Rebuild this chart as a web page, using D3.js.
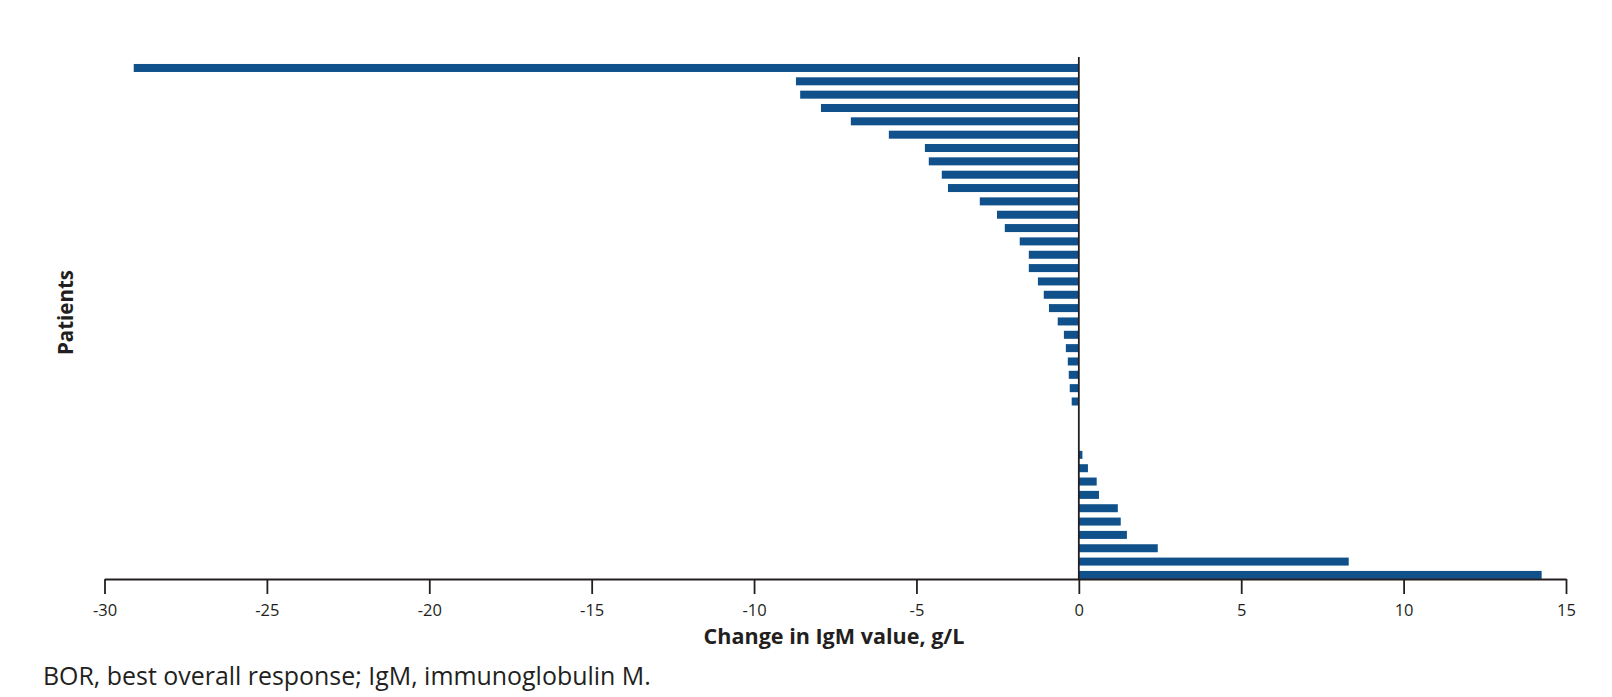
<!DOCTYPE html>
<html>
<head>
<meta charset="utf-8">
<script src="https://cdn.jsdelivr.net/npm/d3@7"></script>
<style>
  html, body { margin: 0; padding: 0; background: #fff; }
  svg { display: block; }
  text { font-family: "Open Sans", "Liberation Sans", Arial, sans-serif; fill: #231f20; }
</style>
</head>
<body>
<svg id="chart" width="1612" height="697"></svg>
<script>
// Veränderung des IgM-Werts je Patient (g/L), sortiert wie im Original
const changeIgM = [
  -29.1, -8.71, -8.58, -7.94, -7.02, -5.85, -4.74, -4.62, -4.22, -4.03,
  -3.05, -2.52, -2.28, -1.82, -1.54, -1.54, -1.26, -1.08, -0.92, -0.65,
  -0.46, -0.40, -0.34, -0.31, -0.28, -0.22, 0, 0, 0,
  0.11, 0.28, 0.55, 0.62, 1.20, 1.29, 1.48, 2.43, 8.31, 14.25
];
// Patienten-IDs (eine Zeile pro Patient)
const patients = changeIgM.map((_, i) => `P${i + 1}`);
// Tick-Werte der x-Achse
const xTicks = [-30, -25, -20, -15, -10, -5, 0, 5, 10, 15];

const xLabel = 'Change in IgM value, g/L';
const yLabel = 'Patients';
const footnote = 'BOR, best overall response; IgM, immunoglobulin M.';

const svg = d3.select('#chart');
const barColor = '#10508b';
const axisColor = '#231f20';

// Skalen
const x = d3.scaleLinear().domain([-30, 15]).range([104.5, 1566]);
const y = d3.scaleBand()
  .domain(patients)
  .range([61.3, 581.6])
  .paddingInner(0.4)
  .paddingOuter(0.2);

const axisY = 579;

// Schriftgröße so anpassen, dass der Text die gewünschte Breite hat
function fitText(sel, targetWidth) {
  const w = sel.node().getComputedTextLength();
  const size = parseFloat(sel.style('font-size'));
  sel.style('font-size', (size * targetWidth / w).toFixed(2) + 'px');
  return sel;
}

// Balken
svg.append('g')
  .selectAll('rect')
  .data(changeIgM)
  .enter()
  .append('rect')
  .attr('x', d => x(Math.min(0, d)))
  .attr('width', d => Math.abs(x(d) - x(0)))
  .attr('y', (d, i) => y(patients[i]))
  .attr('height', y.bandwidth())
  .attr('fill', barColor);

// x-Achse
const xAxis = svg.append('g')
  .attr('transform', `translate(0,${axisY})`)
  .attr('font-size', null)
  .attr('font-family', null)
  .call(d3.axisBottom(x).tickValues(xTicks).tickSize(15).tickSizeOuter(0));
xAxis.select('.domain').attr('stroke', axisColor).attr('stroke-width', 1.8);
xAxis.selectAll('.tick line').attr('stroke', axisColor).attr('stroke-width', 1.8);
xAxis.selectAll('.tick text')
  .attr('y', 37)
  .attr('dy', null)
  .style('font-size', '16.5px')
  .style('font-family', '"Open Sans", "Liberation Sans", Arial, sans-serif')
  .attr('fill', axisColor)
  .text(d => d < 0 ? '-' + Math.abs(d) : d);

// y-Achse bei 0
svg.append('line')
  .attr('x1', x(0)).attr('x2', x(0))
  .attr('y1', 57).attr('y2', axisY)
  .attr('stroke', axisColor)
  .attr('stroke-width', 1.8);

// Achsentitel
const xTitle = svg.append('text')
  .attr('x', 834)
  .attr('y', 644.3)
  .attr('text-anchor', 'middle')
  .style('font-size', '20px')
  .style('font-weight', 'bold')
  .text(xLabel);
fitText(xTitle, 261);

const yTitle = svg.append('text')
  .attr('transform', 'translate(73.3,312.5) rotate(-90)')
  .attr('text-anchor', 'middle')
  .style('font-size', '20px')
  .style('font-weight', 'bold')
  .text(yLabel);
fitText(yTitle, 85);

// Fußnote
const foot = svg.append('text')
  .attr('x', 43)
  .attr('y', 685)
  .style('font-size', '21px')
  .text(footnote);
fitText(foot, 608);
</script>
</body>
</html>
